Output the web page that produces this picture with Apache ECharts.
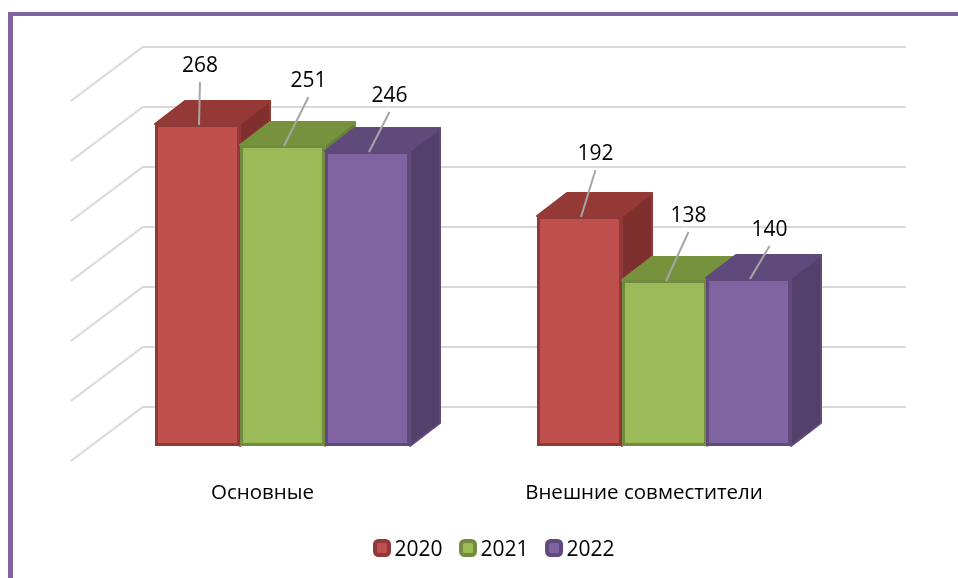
<!DOCTYPE html>
<html>
<head>
<meta charset="utf-8">
<style>
	html, body { margin: 0; padding: 0; background: #fff; }
	#chart { width: 958px; height: 578px; }
</style>
</head>
<body>
<div id="chart"></div>
<script src="https://cdn.jsdelivr.net/npm/echarts@6/dist/echarts.min.js"></script>
<script>
const categories = ['Основные', 'Внешние совместители']
const years = ['2020', '2021', '2022']
const values2020 = [268, 192]
const values2021 = [251, 138]
const values2022 = [246, 140]
const wallTicks = [0, 50, 100, 150, 200, 250, 300]

// where each leader line ends, relative to the middle of the bar's top edge
const leaders2020 = [[2.5, -42], [16, -46]]
const leaders2021 = [[26, -48], [24, -48]]
const leaders2022 = [[22, -39], [21, -32]]

const colors = [
	{ front: '#c0504d', edge: '#8f3a38', top: '#953937', side: '#7f302e' },
	{ front: '#9bbb59', edge: '#718c3f', top: '#76923c', side: '#66803a' },
	{ front: '#8064a2', edge: '#5f4a7b', top: '#604a7b', side: '#54416b' }
]
const fontName = '"Open Sans", sans-serif'
const depthX = 30
const depthY = 23
const barShare = 0.2225

function barBox(api, seriesIndex) {
	const top = api.coord([api.value(0), api.value(1)])
	const base = api.coord([api.value(0), 0])
	const w = api.size([1, 0])[0] * barShare
	const x = Math.round(top[0] + (seriesIndex - 1) * w - w / 2)
	const y = Math.round(top[1])
	return { x: x, y: y, w: Math.round(w), h: Math.round(base[1]) - y }
}

function renderWall(params, api) {
	const y = api.coord([0, api.value(0)])[1]
	const left = params.coordSys.x
	const right = left + params.coordSys.width
	return {
		type: 'polyline',
		shape: { points: [[left - 21, y + 15], [left + 51, y - 39], [right + 51, y - 39]] },
		style: { fill: null, stroke: '#d9d9d9', lineWidth: 2 }
	}
}

function renderBar(seriesIndex) {
	const c = colors[seriesIndex]
	return function (params, api) {
		const b = barBox(api, seriesIndex)
		const r = b.x + b.w
		const bottom = b.y + b.h
		return {
			type: 'group',
			children: [
				{
					type: 'polygon',
					shape: { points: [[r, b.y], [r + depthX, b.y - depthY], [r + depthX, bottom - depthY], [r, bottom]] },
					style: { fill: c.side, stroke: c.top, lineWidth: 2, lineJoin: 'round' }
				},
				{
					type: 'polygon',
					shape: { points: [[b.x, b.y], [b.x + depthX, b.y - depthY], [r + depthX, b.y - depthY], [r, b.y]] },
					style: { fill: c.top, stroke: c.top, lineWidth: 2, lineJoin: 'round' }
				},
				{
					type: 'rect',
					shape: { x: b.x + 1.5, y: b.y + 1.5, width: b.w - 3, height: b.h - 3 },
					style: { fill: c.front, stroke: c.edge, lineWidth: 3 }
				}
			]
		}
	}
}

function renderLabel(seriesIndex, leaders) {
	return function (params, api) {
		const b = barBox(api, seriesIndex)
		const mid = b.x + b.w / 2
		const off = leaders[params.dataIndex]
		const endX = mid + off[0]
		const endY = b.y + off[1]
		return {
			type: 'group',
			children: [
				{
					type: 'line',
					shape: { x1: mid + 1.5, y1: b.y + 1, x2: endX, y2: endY },
					style: { stroke: '#a6a6a6', lineWidth: 2 }
				},
				{
					type: 'text',
					style: {
						x: endX,
						y: endY - 16,
						text: String(api.value(1)),
						fill: '#000',
						font: '21px ' + fontName,
						align: 'center',
						verticalAlign: 'middle'
					}
				}
			]
		}
	}
}

function toPairs(list) {
	return list.map((v, i) => [i, v])
}

const allValues = [values2020, values2021, values2022]
const allLeaders = [leaders2020, leaders2021, leaders2022]

const series = [{
	name: 'wall',
	type: 'custom',
	silent: true,
	clip: false,
	renderItem: renderWall,
	encode: { y: 0 },
	data: wallTicks.map(v => [v]),
	z: 1
}]
years.forEach((year, i) => {
	series.push({
		name: year,
		type: 'custom',
		clip: false,
		renderItem: renderBar(i),
		encode: { x: 0, y: 1 },
		data: toPairs(allValues[i]),
		itemStyle: { color: colors[i].front },
		z: 2 + i
	})
})
years.forEach((year, i) => {
	series.push({
		name: 'label' + year,
		type: 'custom',
		clip: false,
		renderItem: renderLabel(i, allLeaders[i]),
		encode: { x: 0, y: 1 },
		data: toPairs(allValues[i]),
		z: 10
	})
})

const chart = echarts.init(document.getElementById('chart'), null, { renderer: 'canvas' })
chart.setOption({
	animation: false,
	backgroundColor: '#fff',
	textStyle: { fontFamily: fontName },
	grid: { left: 91.75, width: 763, top: 86, height: 360, containLabel: false },
	xAxis: {
		type: 'category',
		data: categories,
		axisLine: { show: false },
		axisTick: { show: false },
		axisLabel: { color: '#000', fontSize: 20.5, fontFamily: fontName, margin: 37, padding: [0, 40, 0, 0] }
	},
	yAxis: {
		type: 'value',
		min: 0,
		max: 300,
		interval: 50,
		axisLine: { show: false },
		axisTick: { show: false },
		axisLabel: { show: false },
		splitLine: { show: false }
	},
	legend: {
		data: years.map((year, i) => ({
			name: year,
			itemStyle: { color: colors[i].front, borderColor: colors[i].edge, borderWidth: 4 }
		})),
		left: 373,
		top: 539,
		padding: 0,
		itemWidth: 14,
		itemHeight: 14,
		itemGap: 16.5,
		icon: 'roundRect',
		formatter: '{t|{name}}',
		textStyle: {
			rich: { t: { color: '#000', fontSize: 21, fontFamily: fontName, padding: [4, 0, 0, 0.5] } }
		}
	},
	graphic: [
		{ type: 'rect', shape: { x: 8, y: 12, width: 950, height: 4 }, style: { fill: '#8064a2' }, silent: true },
		{ type: 'rect', shape: { x: 8, y: 12, width: 5, height: 566 }, style: { fill: '#8064a2' }, silent: true }
	],
	series: series
})
</script>
</body>
</html>
